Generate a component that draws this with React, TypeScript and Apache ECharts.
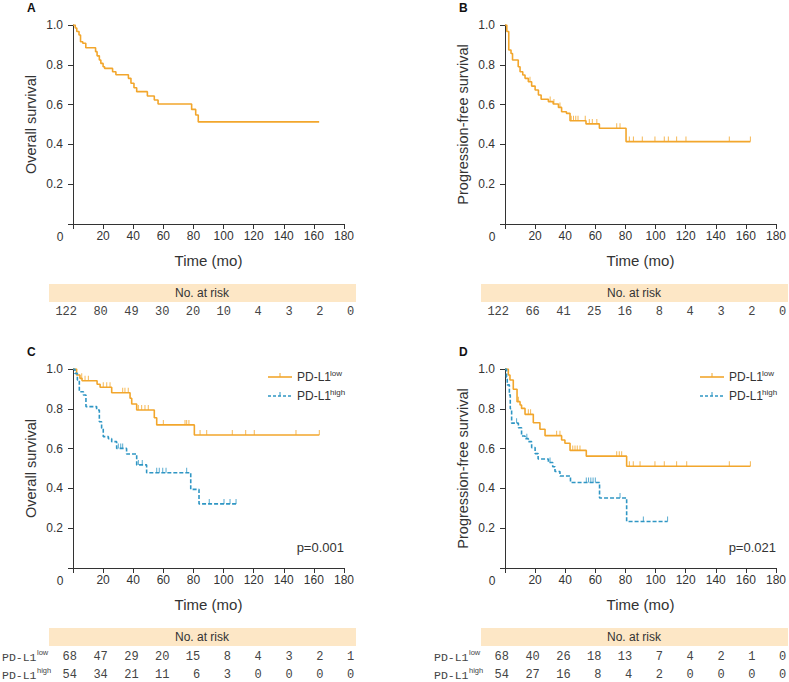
import React, { useEffect, useRef } from 'react';
import * as echarts from 'echarts';

// ---------- data ----------
const timeTicks = [0, 20, 40, 60, 80, 100, 120, 140, 160, 180];

const riskA = [122, 80, 49, 30, 20, 10, 4, 3, 2, 0];
const riskB = [122, 66, 41, 25, 16, 8, 4, 3, 2, 0];
const riskCLow = [68, 47, 29, 20, 15, 8, 4, 3, 2, 1];
const riskCHigh = [54, 34, 21, 11, 6, 3, 0, 0, 0, 0];
const riskDLow = [68, 40, 26, 18, 13, 7, 4, 2, 1, 0];
const riskDHigh = [54, 27, 16, 8, 4, 2, 0, 0, 0, 0];

// Panel A: overall survival, all patients
const osAllT = [0, 1.5, 2.5, 4, 5, 6.5, 8.5, 15, 16, 17.5, 18.5, 20, 21, 26.3, 28.5, 36.8, 38.5, 40.5, 42.3, 49.4, 54, 56.5, 78.8, 81.5, 83.2, 163.5];
const osAllS = [1.0, 0.985, 0.967, 0.95, 0.916, 0.908, 0.886, 0.866, 0.845, 0.824, 0.807, 0.79, 0.782, 0.765, 0.75, 0.732, 0.707, 0.685, 0.665, 0.643, 0.623, 0.603, 0.576, 0.548, 0.513, 0.513];

// Panel B: progression-free survival, all patients
const pfsAllT = [0, 1.2, 2.5, 4, 5, 8.8, 10, 11.8, 13.3, 15.5, 17.7, 20, 22.2, 24, 28.8, 32, 35.5, 37.6, 40.8, 43.2, 53.8, 62.7, 80.4, 163];
const pfsAllS = [1.0, 0.967, 0.874, 0.857, 0.824, 0.79, 0.765, 0.749, 0.732, 0.715, 0.693, 0.673, 0.648, 0.627, 0.615, 0.603, 0.586, 0.564, 0.556, 0.519, 0.503, 0.481, 0.414, 0.414];
const pfsAllCens = [8.9, 16.6, 30, 32.5, 36.5, 44, 45.5, 47, 48.5, 53.3, 56, 58, 61, 74.2, 76.4, 82.6, 85.3, 91.2, 99.6, 105.8, 108.5, 114, 120.2, 149, 163];

// Panel C: overall survival by PD-L1
const osLowT = [0, 2.4, 4.6, 6, 16, 18, 25.7, 37.9, 39, 42.3, 54, 55.6, 80.6, 163.6];
const osLowS = [1.0, 0.97, 0.953, 0.941, 0.923, 0.908, 0.881, 0.853, 0.824, 0.794, 0.755, 0.719, 0.668, 0.668];
const osLowCens = [5.8, 8, 10.2, 20.1, 22.4, 24.6, 33, 34.5, 36.7, 43.4, 45.6, 47.8, 50, 60, 74.4, 75.5, 77, 84.4, 88.8, 105.8, 114.7, 120.4, 148.1, 163.6];
const osHighT = [0, 1.3, 2.9, 4.2, 6.9, 8.6, 15.7, 17.5, 19, 20.1, 23.5, 25.7, 29, 35.6, 42.3, 48.9, 78.2, 83.7, 108.3];
const osHighS = [1.0, 0.978, 0.945, 0.886, 0.869, 0.811, 0.794, 0.735, 0.702, 0.66, 0.65, 0.635, 0.601, 0.573, 0.518, 0.479, 0.395, 0.322, 0.322];
const osHighCens = [30.1, 31.7, 33, 43.4, 46, 55.6, 57.3, 59.6, 61.8, 75.5, 90.5, 100.3, 104.3, 108.3];

// Panel D: progression-free survival by PD-L1
const pfsLowT = [0, 2.2, 3.3, 5.5, 8, 10, 11, 13.3, 18.8, 23.2, 26.6, 37.6, 39.8, 43.2, 54, 80.8, 163];
const pfsLowS = [1.0, 0.97, 0.945, 0.898, 0.836, 0.819, 0.802, 0.772, 0.73, 0.697, 0.665, 0.643, 0.627, 0.591, 0.562, 0.511, 0.511];
const pfsLowCens = [8.9, 15.5, 17, 34.3, 36.5, 45, 46.5, 48, 49.8, 74.2, 75.9, 77.5, 82.6, 85.2, 89.7, 99.6, 105.8, 114, 120.7, 149, 163];
const pfsHighT = [0, 1, 1.5, 2.9, 3.5, 4.4, 8.9, 11, 13.3, 15.5, 17.7, 20, 22, 28.8, 31.7, 33.2, 36.5, 43.5, 62.8, 80.8, 108];
const pfsHighS = [1.0, 0.96, 0.92, 0.87, 0.8, 0.728, 0.705, 0.663, 0.65, 0.635, 0.605, 0.575, 0.548, 0.53, 0.509, 0.485, 0.462, 0.43, 0.352, 0.234, 0.234];
const pfsHighCens = [7.7, 14.5, 29.9, 54, 55.5, 57, 58.5, 60, 76.4, 91.9, 108];

const pValues = ['p=0.001', 'p=0.021'];

// ---------- style / layout ----------
const ORANGE = '#F2A62C';
const BLUE = '#2F96C4';
const TXT = '#333333';
const SANS = '"Liberation Sans", Arial, sans-serif';
const MONO = '"Liberation Mono", "DejaVu Sans Mono", monospace';
const W = 271;
const H = 199;
const panels = [
  { left: 73, top: 25, letter: 'A', yName: 'Overall survival' },
  { left: 505, top: 25, letter: 'B', yName: 'Progression-free survival' },
  { left: 73, top: 369, letter: 'C', yName: 'Overall survival' },
  { left: 505, top: 369, letter: 'D', yName: 'Progression-free survival' },
];

function levelAt(times: number[], surv: number[], t: number) {
  let s = surv[0];
  for (let i = 0; i < times.length; i++) if (times[i] <= t) s = surv[i];
  return s;
}

function curve(idx: number, times: number[], surv: number[], color: string, dashed: boolean) {
  return {
    type: 'line',
    xAxisIndex: idx,
    yAxisIndex: idx,
    step: 'end',
    symbol: 'none',
    showSymbol: false,
    data: times.map((t, k) => [t, surv[k]]),
    lineStyle: { color, width: 1.6, type: dashed ? [4, 2] : 'solid' },
    silent: true,
    z: 3,
  };
}

function censor(idx: number, cens: number[], times: number[], surv: number[], color: string) {
  return {
    type: 'scatter',
    xAxisIndex: idx,
    yAxisIndex: idx,
    symbol: 'rect',
    symbolSize: [1, 5],
    symbolOffset: [0, -2.5],
    data: cens.map((t) => [t, levelAt(times, surv, t)]),
    itemStyle: { color },
    silent: true,
    z: 4,
  };
}

function txt(x: number, y: number, text: string, opts: any = {}) {
  const align = opts.align || 'left';
  const valign = opts.valign || 'middle';
  return {
    type: 'text',
    x,
    y,
    silent: true,
    style: {
      text,
      fill: opts.fill || TXT,
      fontSize: opts.fontSize || 12,
      fontFamily: opts.fontFamily || SANS,
      fontWeight: opts.fontWeight || 'normal',
      align,
      textAlign: align,
      verticalAlign: valign,
      textVerticalAlign: valign,
    },
  };
}

function riskRow(left: number, y: number, values: number[]) {
  return values.map((v, i) =>
    txt(left + 4 + i * 30.8, y, String(v), { align: 'right', fontFamily: MONO, fill: '#444' })
  );
}

function rowLabel(x: number, y: number, sup: string) {
  return [
    txt(x, y, 'PD-L1', { fontFamily: MONO, fontSize: 11.5, fill: '#444' }),
    txt(x + 35, y - 5, sup, { fontSize: 7.5, fill: '#444' }),
  ];
}

function legendItem(left: number, y: number, color: string, dashed: boolean, sup: string) {
  return [
    {
      type: 'line',
      silent: true,
      shape: { x1: left + 195, y1: y, x2: left + 219, y2: y },
      style: { stroke: color, lineWidth: 1.6, lineDash: dashed ? [3, 2] : null },
    },
    {
      type: 'line',
      silent: true,
      shape: { x1: left + 207, y1: y, x2: left + 207, y2: y - 4 },
      style: { stroke: color, lineWidth: 1 },
    },
    txt(left + 224, y, 'PD-L1', { fontSize: 12 }),
    txt(left + 257, y - 4, sup, { fontSize: 8 }),
  ];
}

export default function App() {
  const ref = useRef<HTMLDivElement>(null);

  useEffect(() => {
    if (!ref.current) return;
    const chart = echarts.init(ref.current, null, { renderer: 'svg' });

    const grid = panels.map((p) => ({ left: p.left, top: p.top, width: W, height: H, containLabel: false }));

    const xAxis = panels.map((p, i) => ({
      type: 'value',
      gridIndex: i,
      min: 0,
      max: 180,
      interval: 20,
      axisLine: { show: true, lineStyle: { color: '#333', width: 1 } },
      axisTick: { show: true, length: 5, lineStyle: { color: '#333' } },
      axisLabel: {
        formatter: (v: number) => (v === 0 ? '' : String(v)),
        fontSize: 12,
        color: TXT,
        fontFamily: SANS,
        margin: 6,
      },
      splitLine: { show: false },
      name: 'Time (mo)',
      nameLocation: 'middle',
      nameGap: 29,
      nameTextStyle: { fontSize: 15, color: TXT, fontFamily: SANS },
    }));

    const yAxis = panels.map((p, i) => ({
      type: 'value',
      gridIndex: i,
      min: 0,
      max: 1,
      interval: 0.2,
      axisLine: { show: true, lineStyle: { color: '#333', width: 1 } },
      axisTick: { show: true, length: 5, lineStyle: { color: '#333' } },
      axisLabel: {
        formatter: (v: number) => (v === 0 ? '' : v.toFixed(1)),
        fontSize: 12,
        color: TXT,
        fontFamily: SANS,
        margin: 10,
      },
      splitLine: { show: false },
      name: p.yName,
      nameLocation: 'middle',
      nameRotate: 90,
      nameGap: 35,
      nameTextStyle: { fontSize: 14.5, color: TXT, fontFamily: SANS },
    }));

    const series: any[] = [
      curve(0, osAllT, osAllS, ORANGE, false),
      curve(1, pfsAllT, pfsAllS, ORANGE, false),
      censor(1, pfsAllCens, pfsAllT, pfsAllS, ORANGE),
      curve(2, osLowT, osLowS, ORANGE, false),
      censor(2, osLowCens, osLowT, osLowS, ORANGE),
      curve(2, osHighT, osHighS, BLUE, true),
      censor(2, osHighCens, osHighT, osHighS, BLUE),
      curve(3, pfsLowT, pfsLowS, ORANGE, false),
      censor(3, pfsLowCens, pfsLowT, pfsLowS, ORANGE),
      curve(3, pfsHighT, pfsHighS, BLUE, true),
      censor(3, pfsHighCens, pfsHighT, pfsHighS, BLUE),
    ];

    const graphics: any[] = [];
    panels.forEach((p) => {
      graphics.push(txt(p.left - 46, p.top - 17, p.letter, { fontWeight: 'bold', fontSize: 12, fill: '#111' }));
      graphics.push(txt(p.left - 13, p.top + H + 13, '0', { align: 'center', fontSize: 12 }));
      const bandTop = p.top + H + 60;
      graphics.push({
        type: 'rect',
        silent: true,
        shape: { x: p.left - 24, y: bandTop, width: 307, height: 18 },
        style: { fill: '#FDE7C6' },
      });
      graphics.push(txt(p.left + 129, bandTop + 9, 'No. at risk', { align: 'center', fontSize: 12 }));
    });

    // risk rows
    graphics.push(...riskRow(panels[0].left, panels[0].top + H + 88, riskA));
    graphics.push(...riskRow(panels[1].left, panels[1].top + H + 88, riskB));
    graphics.push(...riskRow(panels[2].left, panels[2].top + H + 89, riskCLow));
    graphics.push(...riskRow(panels[2].left, panels[2].top + H + 107, riskCHigh));
    graphics.push(...riskRow(panels[3].left, panels[3].top + H + 89, riskDLow));
    graphics.push(...riskRow(panels[3].left, panels[3].top + H + 107, riskDHigh));
    graphics.push(...rowLabel(panels[2].left - 71, panels[2].top + H + 89, 'low'));
    graphics.push(...rowLabel(panels[2].left - 71, panels[2].top + H + 107, 'high'));
    graphics.push(...rowLabel(panels[3].left - 71, panels[3].top + H + 89, 'low'));
    graphics.push(...rowLabel(panels[3].left - 71, panels[3].top + H + 107, 'high'));

    // legends and p-values
    [2, 3].forEach((k, j) => {
      const p = panels[k];
      graphics.push(...legendItem(p.left, p.top + 8, ORANGE, false, 'low'));
      graphics.push(...legendItem(p.left, p.top + 27, BLUE, true, 'high'));
      graphics.push(txt(p.left + W, p.top + 178, pValues[j], { align: 'right', fontSize: 13 }));
    });

    chart.setOption({
      animation: false,
      backgroundColor: '#ffffff',
      grid,
      xAxis,
      yAxis,
      series,
      graphic: { elements: graphics },
    });

    return () => chart.dispose();
  }, []);

  return (
    <div
      ref={ref}
      style={{ position: 'absolute', left: 0, top: 0, width: 789, height: 682, background: '#fff' }}
    />
  );
}
